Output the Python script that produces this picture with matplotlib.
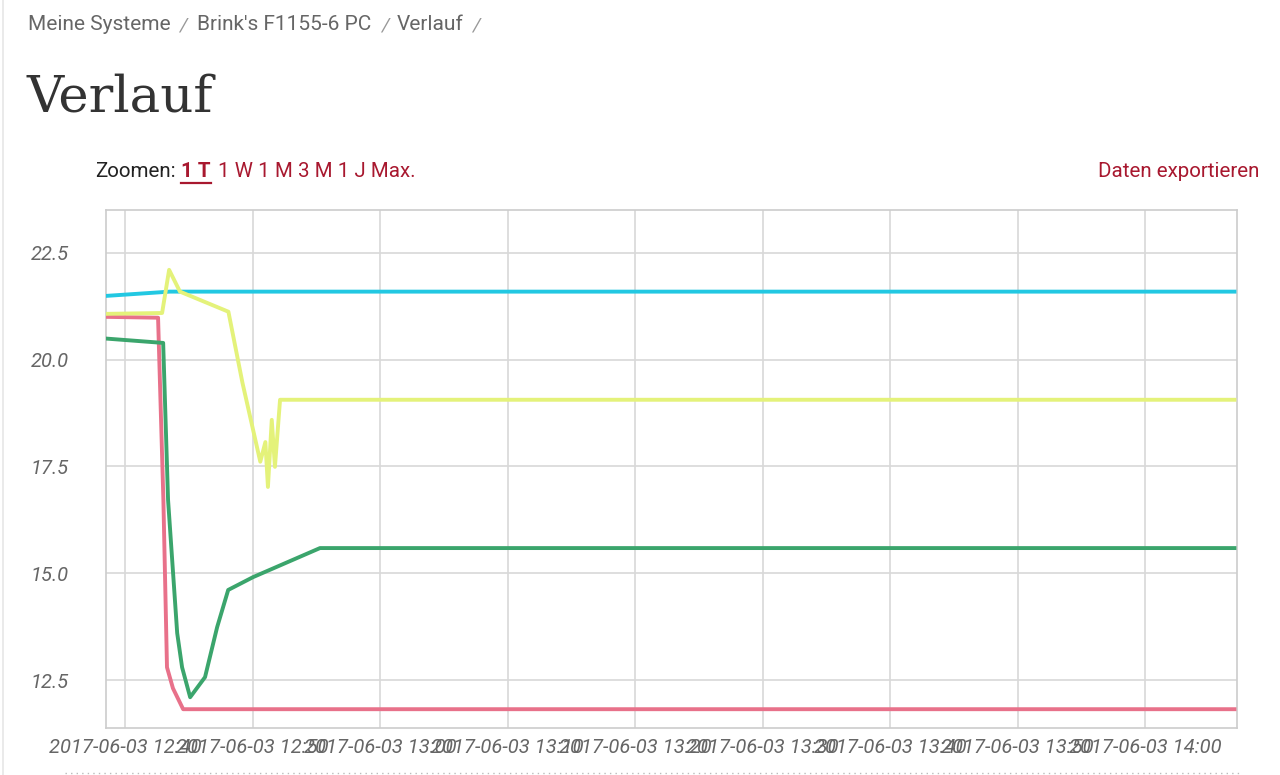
import matplotlib
matplotlib.use("Agg")
import matplotlib.pyplot as plt
import matplotlib.dates as mdates
import pandas as pd
from matplotlib.lines import Line2D

# ---------------- data ----------------
date = "2017-06-03 "
cyan_times = ["12:38:30", "12:43:30", "14:07:00"]
cyan_vals = [21.49, 21.59, 21.59]

yellow_times = ["12:38:30", "12:42:54", "12:43:27", "12:44:18", "12:48:06", "12:49:12",
                "12:50:36", "12:51:00", "12:51:12", "12:51:30", "12:51:45", "12:52:09", "14:07:00"]
yellow_vals = [21.07, 21.09, 22.10, 21.59, 21.12, 19.46,
               17.61, 18.07, 17.02, 18.59, 17.49, 19.06, 19.06]

red_times = ["12:38:30", "12:42:35", "12:43:00", "12:43:17", "12:43:45", "12:44:33", "14:07:00"]
red_vals = [21.00, 20.98, 16.72, 12.80, 12.31, 11.82, 11.82]

green_times = ["12:38:35", "12:42:59", "12:43:22", "12:44:05", "12:44:28", "12:45:06",
               "12:46:16", "12:47:13", "12:48:05", "12:50:02", "12:55:17", "14:07:00"]
green_vals = [20.49, 20.39, 16.72, 13.60, 12.80, 12.10,
              12.57, 13.74, 14.61, 14.91, 15.59, 15.59]

y_ticks = [12.5, 15.0, 17.5, 20.0, 22.5]

series = [
    (red_times, red_vals, "#e8718a"),
    (cyan_times, cyan_vals, "#22c8e2"),
    (yellow_times, yellow_vals, "#e4f27a"),
    (green_times, green_vals, "#3ba56c"),
]

# ---------------- figure ----------------
W, H = 1280, 775
fig = plt.figure(figsize=(W / 100, H / 100), dpi=100)
fig.patch.set_facecolor("white")

def fx(px):
    return px / W

def fy(py):
    return 1 - py / H

ax = fig.add_axes([fx(106), fy(728), fx(1237) - fx(106), fy(210) - fy(728)])

for t, v, c in series:
    x = pd.to_datetime([date + s for s in t])
    ax.plot(x, v, color=c, lw=2.8, solid_joinstyle="round", zorder=3)

ax.set_xlim(pd.Timestamp(date + "12:38:30"), pd.Timestamp(date + "14:07:12"))
ax.set_ylim(11.38, 23.5)
ax.set_yticks(y_ticks)
ax.yaxis.set_major_formatter(matplotlib.ticker.FormatStrFormatter("%.1f"))
ax.xaxis.set_major_locator(mdates.MinuteLocator(byminute=range(0, 60, 10)))
ax.xaxis.set_major_formatter(mdates.DateFormatter("%Y-%m-%d %H:%M"))

ax.grid(True, color="#d8d8d8", lw=1.2, zorder=0)
for sp in ax.spines.values():
    sp.set_color("#cccccc")
    sp.set_linewidth(1.2)
ax.tick_params(axis="both", length=0, colors="#666666")
ax.tick_params(axis="y", pad=27)
ax.tick_params(axis="x", pad=7)
for lab in ax.get_xticklabels() + ax.get_yticklabels():
    lab.set_fontfamily("Roboto")
    lab.set_fontstyle("italic")
    lab.set_fontsize(14.5)
    lab.set_color("#666666")

# ---------------- page text ----------------
crumb_col = "#666666"
fs_c = 15
fig.text(fx(28), fy(30), "Meine Systeme", family="Roboto", fontsize=fs_c, color=crumb_col, va="baseline")
fig.text(fx(179), fy(30), "/", family="Roboto", fontsize=fs_c - 1, color="#999999", va="baseline", style="italic")
fig.text(fx(197), fy(30), "Brink's F1155-6 PC", family="Roboto", fontsize=fs_c, color=crumb_col, va="baseline")
fig.text(fx(381), fy(30), "/", family="Roboto", fontsize=fs_c - 1, color="#999999", va="baseline", style="italic")
fig.text(fx(397), fy(30), "Verlauf", family="Roboto", fontsize=fs_c, color=crumb_col, va="baseline")
fig.text(fx(472), fy(30), "/", family="Roboto", fontsize=fs_c - 1, color="#999999", va="baseline", style="italic")

fig.text(fx(27), fy(112), "Verlauf", family="DejaVu Serif", fontsize=37, color="#333333", va="baseline")

red = "#a8182f"
fig.text(fx(95), fy(177), "Zoomen:", family="Roboto", fontsize=14.8, color="#222222", va="baseline")
fig.text(fx(181), fy(177), "1 T", family="Roboto", fontsize=14.8, color=red, va="baseline", weight="bold")
fig.add_artist(Line2D([fx(181), fx(211)], [fy(183), fy(183)], color=red, lw=1.6, transform=fig.transFigure))
fig.text(fx(218), fy(177), "1 W 1 M 3 M 1 J Max.", family="Roboto", fontsize=14.8, color=red, va="baseline")
fig.text(fx(1259), fy(177), "Daten exportieren", family="Roboto", fontsize=14.8, color=red, va="baseline", ha="right")

# page frame details
fig.add_artist(Line2D([fx(2.5), fx(2.5)], [0, 1], color="#e6e6e6", lw=1.2, transform=fig.transFigure))
fig.add_artist(Line2D([fx(65), fx(1240)], [fy(773), fy(773)], color="#bbbbbb", lw=1.0,
                      linestyle=(0, (1, 3)), transform=fig.transFigure))

fig.savefig("out.png", dpi=100, facecolor="white")
